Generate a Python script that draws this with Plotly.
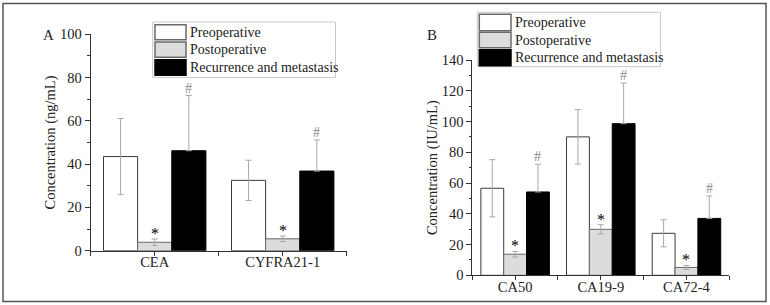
import plotly.graph_objects as go

# ---------------- data ----------------
series_names = ["Preoperative", "Postoperative", "Recurrence and metastasis"]

categories_A = ["CEA", "CYFRA21-1"]
pre_A = [43.5, 32.5]
pre_A_sd = [17.6, 9.3]
post_A = [3.9, 5.5]
post_A_sd = [1.5, 1.3]
rec_A = [46.2, 36.8]
rec_A_sd = [25.5, 14.4]

categories_B = ["CA50", "CA19-9", "CA72-4"]
pre_B = [56.6, 90.0, 27.3]
pre_B_sd = [18.6, 17.7, 8.8]
post_B = [13.7, 29.9, 5.1]
post_B_sd = [1.8, 3.0, 1.3]
rec_B = [54.2, 98.6, 37.0]
rec_B_sd = [18.0, 26.4, 14.6]

# ---------------- styles ----------------
W, H = 770, 305
FONT = "Liberation Serif"
fills = ["#ffffff", "#dcdcdc", "#000000"]
lines = ["#3a3a3a", "#6a6a6a", "#000000"]
ERR = "#a8a8a8"


def px(x):
    return x / W


def py(y):
    return 1 - y / H


fig = go.Figure()


def add_panel(cats, means, sds, xa, ya):
    xs = list(range(len(cats)))
    for k in range(3):
        err = dict(type="data", array=sds[k], color=ERR, thickness=1, width=3, visible=True)
        if k == 2:
            err.update(symmetric=False, arrayminus=[0] * len(cats))
        fig.add_trace(go.Bar(
            x=xs, y=means[k], name=series_names[k], showlegend=False,
            marker=dict(color=fills[k], line=dict(color=lines[k], width=1)),
            error_y=err, xaxis=xa, yaxis=ya, offsetgroup=str(k),
        ))
    bw = 0.8 / 3
    for i in range(len(cats)):
        fig.add_annotation(x=i, y=means[1][i] + sds[1][i], xref=xa, yref=ya,
                           text="*", showarrow=False, xanchor="center", yanchor="bottom", yshift=-5,
                           font=dict(family=FONT, size=16, color="#000"))
        fig.add_annotation(x=i + bw, y=means[2][i] + sds[2][i], xref=xa, yref=ya,
                           text="#", showarrow=False, xanchor="center", yanchor="bottom", yshift=-2,
                           font=dict(family=FONT, size=14, color="#8a8a8a"))


add_panel(categories_A, [pre_A, post_A, rec_A], [pre_A_sd, post_A_sd, rec_A_sd], "x", "y")
add_panel(categories_B, [pre_B, post_B, rec_B], [pre_B_sd, post_B_sd, rec_B_sd], "x2", "y2")

axis_common = dict(showline=True, linecolor="#333", linewidth=1, showgrid=False, zeroline=False,
                   automargin=False,
                   ticks="outside", tickcolor="#333", tickfont=dict(family=FONT, size=14.5, color="#222"))


def xaxis(cats, dom, anchor):
    n = len(cats)
    vals = [v / 2 for v in range(-1, 2 * n)]
    txt = [cats[int(v)] if float(v).is_integer() and 0 <= v < n else "" for v in vals]
    return dict(axis_common, domain=dom, range=[-0.5, n - 0.5], anchor=anchor,
                tickmode="array", tickvals=vals, ticktext=txt, ticklen=4,
                ticklabelstandoff=-6)


def yaxis(rng, dom, anchor, title):
    return dict(axis_common, domain=dom, range=rng, anchor=anchor, dtick=20, ticklen=5,
                minor=dict(dtick=10, ticklen=2.5, ticks="outside", tickcolor="#333"),
                title=dict(text=title, font=dict(family=FONT, size=14.5, color="#222"), standoff=0))


fig.update_layout(
    width=W, height=H, margin=dict(l=0, r=0, t=0, b=0, autoexpand=False),
    paper_bgcolor="white", plot_bgcolor="white",
    barmode="group", bargap=0.2, bargroupgap=0,
    xaxis=xaxis(categories_A, [px(90.7), px(346.7)], "y"),
    yaxis=yaxis([0, 100], [py(250.7), py(34.3)], "x", "Concentration (ng/mL)"),
    xaxis2=xaxis(categories_B, [px(472.3), px(729.3)], "y2"),
    yaxis2=yaxis([0, 140], [py(275.3), py(60)], "x2", "Concentration (IU/mL)"),
)

shapes = []
# outer frame
shapes.append(dict(type="rect", xref="paper", yref="paper", x0=px(3), x1=px(766), y0=py(301.5), y1=py(3.5),
                   line=dict(color="#555", width=1.5), fillcolor="rgba(0,0,0,0)"))


def add_legend(bx0, by0, bx1, by1, sx0, sx1, rows, tx):
    shapes.append(dict(type="rect", xref="paper", yref="paper", x0=px(bx0), x1=px(bx1), y0=py(by1), y1=py(by0),
                       line=dict(color="#c8c8c8", width=1), fillcolor="white", layer="above"))
    for k, (r0, r1) in enumerate(rows):
        shapes.append(dict(type="rect", xref="paper", yref="paper", x0=px(sx0), x1=px(sx1), y0=py(r1), y1=py(r0),
                           line=dict(color="#6a6a6a" if k < 2 else "#000", width=1.5), fillcolor=fills[k],
                           layer="above"))
        fig.add_annotation(x=px(tx), y=py((r0 + r1) / 2), xref="paper", yref="paper", text=series_names[k],
                           showarrow=False, xanchor="left", yanchor="middle",
                           font=dict(family=FONT, size=14, color="#222"))


add_legend(152.7, 22, 335.5, 77.5, 155, 186, [(24.7, 39.7), (42, 57.3), (59.7, 75.3)], 187.5)
add_legend(477.3, 12.3, 660.5, 66.7, 479.3, 511, [(14.3, 30.7), (32.3, 47.7), (49.7, 65.7)], 512.5)

fig.add_annotation(x=px(49), y=py(35), xref="paper", yref="paper", text="A", showarrow=False,
                   xanchor="center", yanchor="middle", font=dict(family=FONT, size=15, color="#222"))
fig.add_annotation(x=px(431.7), y=py(35), xref="paper", yref="paper", text="B", showarrow=False,
                   xanchor="center", yanchor="middle", font=dict(family=FONT, size=15, color="#222"))

fig.update_layout(shapes=shapes)
fig.write_html("out.html")
